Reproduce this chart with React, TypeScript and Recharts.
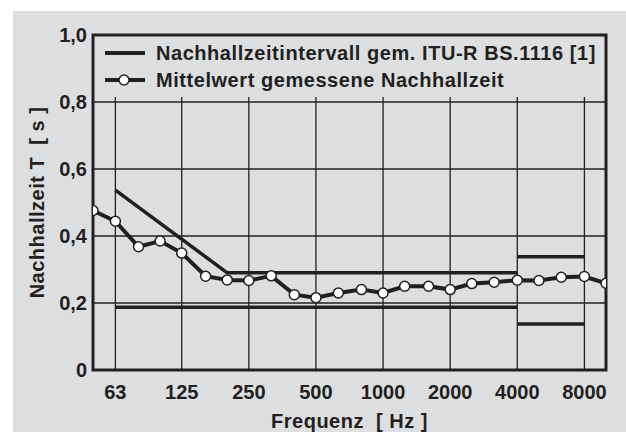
import React from 'react';
import {
  LineChart, Line, XAxis, YAxis, CartesianGrid, ReferenceLine, ReferenceArea, Legend,
} from 'recharts';

const frequencies = [50, 63, 80, 100, 125, 160, 200, 250, 315, 400, 500, 630, 800, 1000, 1250, 1600, 2000, 2500, 3150, 4000, 5000, 6300, 8000, 10000];
const measured = [0.476, 0.444, 0.368, 0.385, 0.349, 0.28, 0.269, 0.267, 0.281, 0.225, 0.216, 0.23, 0.24, 0.23, 0.25, 0.25, 0.24, 0.258, 0.262, 0.268, 0.267, 0.277, 0.279, 0.259];

const upperFreq = [63, 200, 4000];
const upperVal = [0.537, 0.29, 0.29];
const lowerFreq = [63, 4000];
const lowerVal = [0.187, 0.187];
const hfFreq = [4000, 8000];
const hfUpperVal = [0.338, 0.338];
const hfLowerVal = [0.137, 0.137];

const xTicks = [63, 125, 250, 500, 1000, 2000, 4000, 8000];
const yTicks = [0, 0.2, 0.4, 0.6, 0.8, 1.0];

const legendLabels = ['Nachhallzeitintervall gem. ITU-R BS.1116 [1]', 'Mittelwert gemessene Nachhallzeit'];
const xTitle = 'Frequenz\u00a0\u00a0[\u00a0Hz\u00a0]';
const yTitle = 'Nachhallzeit\u00a0T\u00a0\u00a0[\u00a0s\u00a0]';

const zip = (fs: number[], vs: number[]) => fs.map((f, i) => ({ f, v: vs[i] }));
const measuredData = zip(frequencies, measured);
const upperData = zip(upperFreq, upperVal);
const lowerData = zip(lowerFreq, lowerVal);
const hfUpperData = zip(hfFreq, hfUpperVal);
const hfLowerData = zip(hfFreq, hfLowerVal);

const INK = '#231f20';
const FONT = '"Liberation Sans", Arial, sans-serif';

const fmtY = (v: number) => (v === 0 ? '0' : v.toFixed(1).replace('.', ','));

const LegendContent = () => (
  <div style={{ fontFamily: FONT, fontWeight: 700, fontSize: 20, letterSpacing: 0.55, color: INK, textAlign: 'left' }}>
    {legendLabels.map((label, i) => (
      <div key={label} style={{ display: 'flex', alignItems: 'center', height: 27, whiteSpace: 'nowrap' }}>
        <svg width={40} height={16} style={{ marginRight: 11, flex: 'none' }}>
          <line x1={0} y1={8} x2={40} y2={8} stroke={INK} strokeWidth={4} />
          {i === 1 && <circle cx={19} cy={8} r={5} fill="#fff" stroke={INK} strokeWidth={1.5} />}
        </svg>
        <span style={{ lineHeight: '22px' }}>{label}</span>
      </div>
    ))}
  </div>
);

const tickStyle = { fill: INK, fontSize: 20, fontWeight: 700, fontFamily: FONT };

export default function App() {
  return (
    <div style={{ position: 'absolute', left: 0, top: 0, width: 626, height: 432, background: '#fff' }}>
      <div style={{ position: 'absolute', left: 13, top: 11, width: 613, height: 421, background: '#dddee0' }} />
      <div style={{ position: 'absolute', left: 0, top: 0 }}>
        <LineChart width={626} height={432} margin={{ top: 35, right: 20, bottom: 0, left: 33 }}>
          <CartesianGrid horizontal vertical={false} stroke={INK} strokeWidth={1.3} strokeOpacity={1} />
          <XAxis
            dataKey="f"
            type="number"
            scale="log"
            domain={[50, 10000]}
            ticks={xTicks}
            allowDataOverflow
            axisLine={false}
            tickLine={false}
            tickSize={0}
            tickMargin={15}
            height={62}
            tick={tickStyle}
            label={{ value: xTitle, position: 'insideBottom', offset: 4, fill: INK, fontSize: 20, fontWeight: 700, fontFamily: FONT, letterSpacing: 0.5 }}
          />
          <YAxis
            type="number"
            domain={[0, 1]}
            ticks={yTicks}
            tickFormatter={fmtY}
            axisLine={false}
            tickLine={false}
            tickSize={0}
            tickMargin={6}
            width={60}
            tick={tickStyle}
            label={{ value: yTitle, angle: -90, position: 'insideLeft', offset: 4, fill: INK, fontSize: 20, fontWeight: 700, fontFamily: FONT, letterSpacing: 0.5, style: { textAnchor: 'middle' } }}
          />
          {xTicks.map((t) => (
            <ReferenceLine key={t} segment={[{ x: t, y: 0 }, { x: t, y: 0.815 }]} stroke={INK} strokeWidth={1.3} ifOverflow="visible" />
          ))}
          <ReferenceArea x1={50} x2={10000} y1={0} y2={1} fill="none" stroke={INK} strokeWidth={3} ifOverflow="visible" />
          <Legend
            layout="horizontal"
            verticalAlign="middle"
            align="center"
            content={<LegendContent />}
            wrapperStyle={{ position: 'absolute', left: 105, top: 39, width: 500, height: 54 }}
          />
          <Line data={upperData} dataKey="v" stroke={INK} strokeWidth={3.5} dot={false} isAnimationActive={false} legendType="none" name={legendLabels[0]} />
          <Line data={lowerData} dataKey="v" stroke={INK} strokeWidth={3.5} dot={false} isAnimationActive={false} legendType="none" />
          <Line data={hfUpperData} dataKey="v" stroke={INK} strokeWidth={3.5} dot={false} isAnimationActive={false} legendType="none" />
          <Line data={hfLowerData} dataKey="v" stroke={INK} strokeWidth={3.5} dot={false} isAnimationActive={false} legendType="none" />
          <Line
            data={measuredData}
            dataKey="v"
            stroke={INK}
            strokeWidth={4}
            dot={{ r: 5, fill: '#fff', stroke: INK, strokeWidth: 1.5 }}
            isAnimationActive={false}
            name={legendLabels[1]}
          />
        </LineChart>
      </div>
    </div>
  );
}
